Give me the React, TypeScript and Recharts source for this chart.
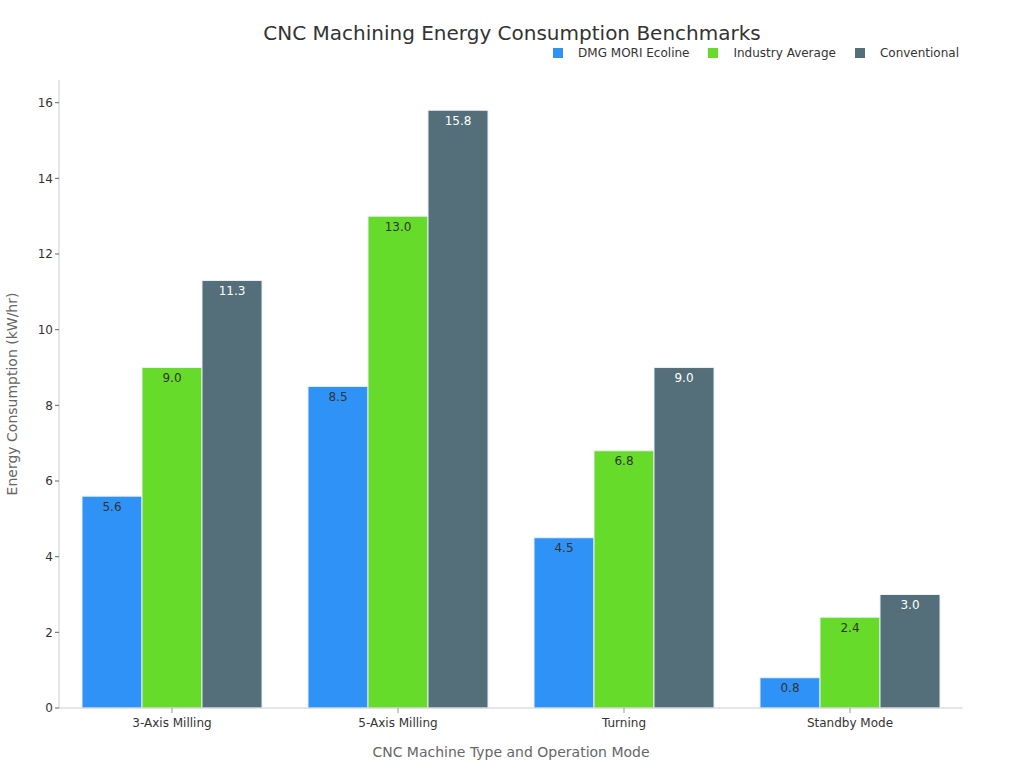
import React from "react";
import { BarChart, Bar, XAxis, YAxis, LabelList } from "recharts";

// chart values
const categories = ["3-Axis Milling", "5-Axis Milling", "Turning", "Standby Mode"];
const dmgMori = [5.6, 8.5, 4.5, 0.8];
const industryAvg = [9.0, 13.0, 6.8, 2.4];
const conventional = [11.3, 15.8, 9.0, 3.0];
const yTicks = [0, 2, 4, 6, 8, 10, 12, 14, 16];

const series = [
  { key: "dmg", name: "DMG MORI Ecoline", color: "#2f92f7", label: "#333" },
  { key: "avg", name: "Industry Average", color: "#67db29", label: "#333" },
  { key: "conv", name: "Conventional", color: "#546e7a", label: "#fff" },
];

const data = categories.map((name, i) => ({
  name,
  dmg: dmgMori[i],
  avg: industryAvg[i],
  conv: conventional[i],
}));

const font = "'DejaVu Sans', sans-serif";
const fmt = (v: any) => Number(v).toFixed(1);

export default function App() {
  return (
    <div
      style={{
        position: "absolute",
        left: 0,
        top: 0,
        width: 1024,
        height: 768,
        background: "#fff",
        fontFamily: font,
      }}
    >
      <div
        style={{
          position: "absolute",
          top: 21,
          left: 0,
          width: 1024,
          textAlign: "center",
          fontSize: 20,
          color: "#333",
        }}
      >
        CNC Machining Energy Consumption Benchmarks
      </div>
      {/* legend */}
      <div
        style={{
          position: "absolute",
          top: 46,
          right: 65,
          display: "flex",
          fontSize: 12,
          color: "#333",
          lineHeight: "14px",
        }}
      >
        {series.map((s) => (
          <div key={s.key} style={{ display: "flex", alignItems: "center", marginLeft: 19 }}>
            <span style={{ width: 10, height: 10, background: s.color, display: "inline-block" }} />
            <span style={{ marginLeft: 15 }}>{s.name}</span>
          </div>
        ))}
      </div>
      <BarChart
        width={1024}
        height={768}
        data={data}
        margin={{ top: 80, right: 61, bottom: 0, left: 0 }}
        barSize={60}
        barGap={0}
      >
        <XAxis
          dataKey="name"
          tick={{ fill: "#333", fontSize: 12, fontFamily: font }}
          axisLine={{ stroke: "#ccc" }}
          tickLine={{ stroke: "#999" }}
          tickSize={5}
          tickMargin={5}
          height={60}
          label={{
            value: "CNC Machine Type and Operation Mode",
            position: "insideBottom",
            offset: 11,
            fill: "#666",
            fontSize: 14,
            fontFamily: font,
          }}
        />
        <YAxis
          width={59}
          domain={[0, 16.6]}
          ticks={yTicks}
          tick={{ fill: "#333", fontSize: 12, fontFamily: font }}
          axisLine={{ stroke: "#ccc" }}
          tickLine={{ stroke: "#666" }}
          tickSize={4}
          label={{
            value: "Energy Consumption (kW/hr)",
            angle: -90,
            position: "insideLeft",
            offset: 12,
            style: { textAnchor: "middle" },
            fill: "#666",
            fontSize: 14,
            fontFamily: font,
          }}
        />
        {series.map((s) => (
          <Bar
            key={s.key}
            dataKey={s.key}
            name={s.name}
            fill={s.color}
            stroke="#e8f0f8"
            strokeWidth={1}
            isAnimationActive={false}
          >
            <LabelList
              dataKey={s.key}
              position="insideTop"
              offset={6}
              formatter={fmt}
              fill={s.label}
              fontSize={12}
              fontFamily={font}
            />
          </Bar>
        ))}
      </BarChart>
    </div>
  );
}
